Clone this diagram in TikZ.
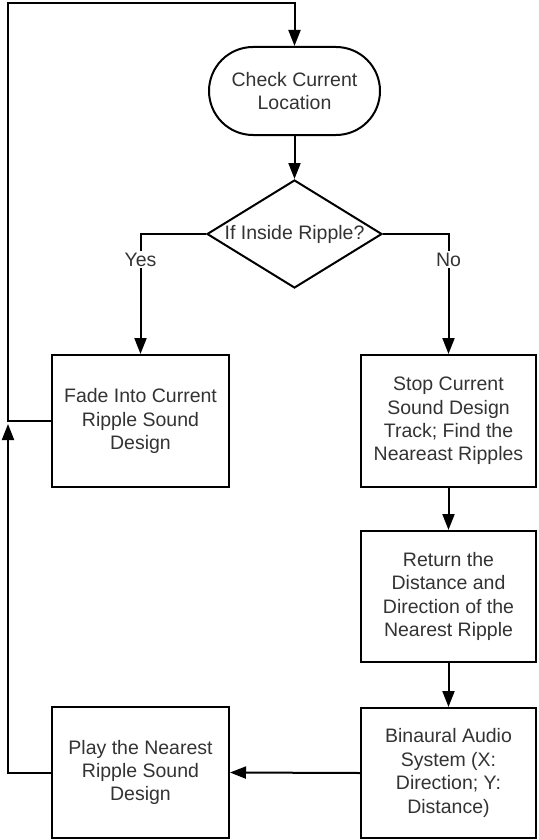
\documentclass[tikz,border=0pt]{standalone}
\usepackage{fontspec}
\setmainfont{Liberation Sans}
\usetikzlibrary{shapes.geometric,shapes.misc,arrows.meta}
\begin{document}
\begin{tikzpicture}[x=1pt,y=-1pt,
  txt/.style={font=\fontsize{19.5pt}{23.4pt}\selectfont, text=black!80},
  box/.style={txt, draw=black, fill=white, line width=2pt, align=center, inner sep=2pt},
  term/.style={box, rounded rectangle, minimum width=175pt, minimum height=88pt},
  decision/.style={box, diamond, inner sep=0pt, aspect=1.62, minimum width=175pt, minimum height=108pt},
  lbl/.style={txt, fill=white, inner sep=2pt},
  conn/.style={draw=black, line width=2pt},
  arr/.style={conn, -{Triangle[length=16pt,width=12pt]}}
]
\useasboundingbox[fill=white] (0,0) rectangle (538,840);

\node[term] (check) at (294.5,91) {Check Current\\Location};
\node[decision] (dec) at (294.5,234) {If Inside Ripple?};
\node[box, minimum width=177pt, minimum height=132pt] (fade) at (140.5,421) {Fade Into Current\\Ripple Sound\\Design};
\node[box, minimum width=175pt, minimum height=132pt] (stop) at (448.5,421) {Stop Current\\Sound Design\\Track; Find the\\Neareast Ripples};
\node[box, minimum width=175pt, minimum height=131pt] (ret) at (448.5,596.5) {Return the\\Distance and\\Direction of the\\Nearest Ripple};
\node[box, minimum width=175pt, minimum height=130pt] (bin) at (448.5,773) {Binaural Audio\\System (X:\\Direction; Y:\\Distance)};
\node[box, minimum width=177pt, minimum height=131pt] (play) at (140.5,772.5) {Play the Nearest\\Ripple Sound\\Design};

\coordinate (tl) at (8,3);
\coordinate (jn) at (8,424);

\draw[arr] (check.south) -- (dec.north);
\draw[arr] (dec.west) -| node[lbl, pos=0.607] {Yes} (fade.north);
\draw[arr] (dec.east) -| node[lbl, pos=0.607] {No} (stop.north);
\draw[arr] (stop.south) -- (ret.north);
\draw[arr] (ret.south) -- (bin.north);
\draw[arr] (bin.west) -- (play.east);
\draw[arr] (play.west) -| (jn);
\draw[arr] (fade.west) -| (tl) -| (check.north);
\end{tikzpicture}
\end{document}
